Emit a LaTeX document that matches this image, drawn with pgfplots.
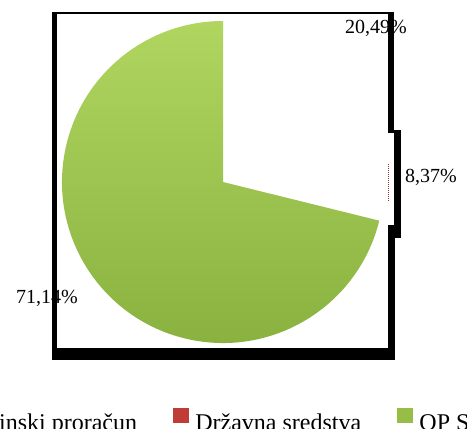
\documentclass[border=0pt]{standalone}
\usepackage{pgfplots}
\pgfplotsset{compat=1.18}
\usepackage{fontspec}
\setmainfont{Liberation Serif}
\definecolor{cblue}{RGB}{79,129,189}
\definecolor{cred}{RGB}{192,60,55}
\definecolor{cgreen}{RGB}{150,190,70}
\definecolor{gtop}{RGB}{176,214,96}
\definecolor{gbot}{RGB}{136,176,62}
% shares (percent)
\def\vA{20.49}% Općinski proračun
\def\vB{8.37}%  Državna sredstva
\def\vC{71.14}% OP S
\begin{document}
\begin{tikzpicture}[x=1pt,y=1pt]
\useasboundingbox (0,0) rectangle (467,429);
\clip (0,0) rectangle (467,429);
\begin{axis}[
  at={(0,0)}, anchor=south west,
  x=1pt, y=1pt, disabledatascaling,
  xmin=0, xmax=467, ymin=0, ymax=429,
  hide axis, clip=false,
  legend columns=-1,
  legend image code/.code={\fill[#1,draw=none] (0pt,0pt) rectangle (16pt,15pt); \path (22pt,0pt);},
  legend style={draw=none, fill=none, inner sep=0pt, outer sep=0pt,
    at={(axis cs:-63,-3)}, anchor=south west,
    font=\fontsize{24}{28}\selectfont,
    nodes={inner sep=0pt, outer sep=0pt},
    /tikz/every even column/.append style={column sep=36pt}},
]
\pgfmathsetmacro{\aA}{90}
\pgfmathsetmacro{\aB}{90-3.6*\vA}
\pgfmathsetmacro{\aC}{\aB-3.6*\vB}
\pgfmathsetmacro{\aD}{\aC-3.6*\vC}
\def\R{161pt}
\coordinate (c) at (axis cs:223,247);
% slices
\fill[white] (c) -- ++(\aA:\R) arc[start angle=\aA, end angle=\aB, radius=\R] -- cycle;
\fill[white] (c) -- ++(\aB:\R) arc[start angle=\aB, end angle=\aC, radius=\R] -- cycle;
\draw[cred!80!black, densely dotted, line width=1pt] (axis cs:388.5,228) -- (axis cs:388.5,266);
\shade[top color=gtop, bottom color=gbot] (c) -- ++(\aC:\R) arc[start angle=\aC, end angle=\aD, radius=\R] -- cycle;
% labels
\node[anchor=base, font=\fontsize{20}{24}\selectfont, inner sep=0pt] at (axis cs:376,395) {20,49\%};
\node[anchor=base, font=\fontsize{20}{24}\selectfont, inner sep=0pt] at (axis cs:431,246) {8,37\%};
\node[anchor=base, font=\fontsize{20}{24}\selectfont, inner sep=0pt] at (axis cs:47,125) {71,14\%};
% frame
\fill[black] (axis cs:52,415) rectangle (axis cs:394,416.5);
\fill[black] (axis cs:52,69) rectangle (axis cs:57,416.5);
\fill[black] (axis cs:52,69) rectangle (axis cs:395,81);
\fill[black] (axis cs:388,296) rectangle (axis cs:394,416.5);
\fill[black] (axis cs:394,191) rectangle (axis cs:401,299);
\fill[black] (axis cs:388,69) rectangle (axis cs:395,204);
\addlegendimage{fill=cblue}
\addlegendentry{Općinski proračun}
\addlegendimage{fill=cred}
\addlegendentry{Državna sredstva}
\addlegendimage{fill=cgreen}
\addlegendentry{OP S}
\end{axis}
\end{tikzpicture}
\end{document}
